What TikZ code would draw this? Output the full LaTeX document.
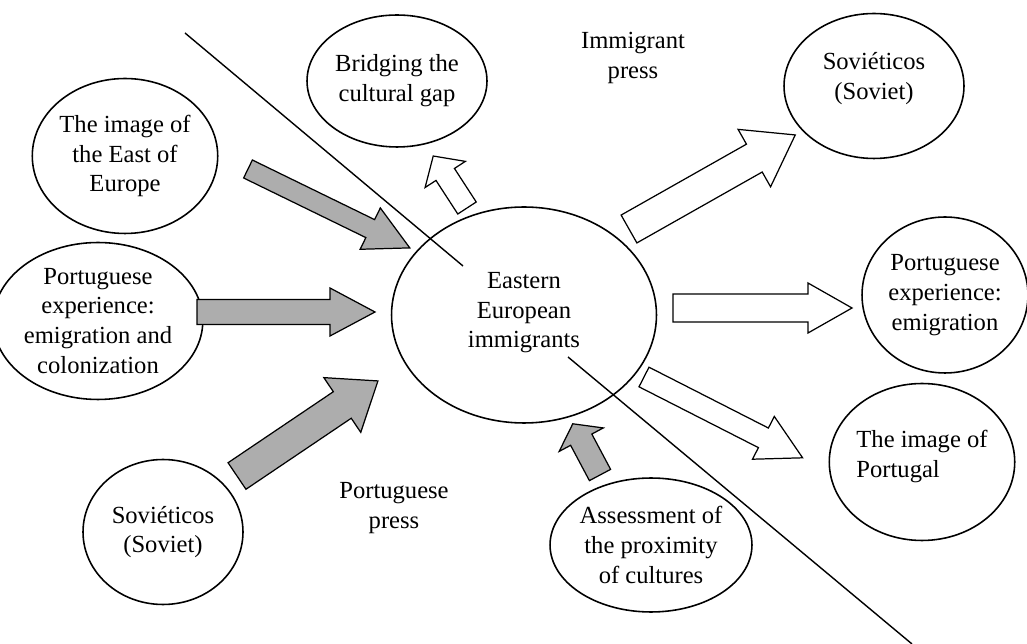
\documentclass[tikz,border=0pt]{standalone}
\usepackage{fontspec}
\setmainfont{Liberation Serif}
\usepackage{tikz}
\usetikzlibrary{shapes.geometric}

% block arrow: style, tail, angle, length, half shaft, half head, head length
\newcommand{\blockarrow}[7]{%
	\begin{scope}[shift={#2}, rotate=#3]
		\draw[#1] (0,-#5) -- (#4-#7,-#5) -- (#4-#7,-#6) -- (#4,0) -- (#4-#7,#6) -- (#4-#7,#5) -- (0,#5) -- cycle;
	\end{scope}}

\tikzset{
	every node/.style={font=\fontsize{14}{17}\selectfont},
	bubble/.style={ellipse, draw, line width=0.9pt, inner sep=0pt, align=center},
	greyarrow/.style={draw, line width=0.7pt, fill=black!32},
	whitearrow/.style={draw, line width=0.7pt, fill=white}
}

\begin{document}
\begin{tikzpicture}[x=0.02cm, y=-0.02cm]
	\useasboundingbox (0,0) rectangle (1027,644);

	% dividing line
	\coordinate (l1) at (185,33);
	\coordinate (l2) at (463,266);
	\coordinate (l3) at (568,357);
	\coordinate (l4) at (912,644);
	\draw[line width=0.8pt] (l1) -- (l2);
	\draw[line width=0.8pt] (l3) -- (l4);

	% bubbles
	\node[bubble, minimum width=5.3cm, minimum height=4.32cm] (immig) at (524,315) {Eastern\\European\\immigrants\\[-11.3pt]};
	\node[bubble, minimum width=3.6cm, minimum height=2.64cm] (bridge) at (397,81) {Bridging the\\cultural gap};
	\node[bubble, minimum width=3.6cm, minimum height=2.9cm] (sovtop) at (874,86) {Soviéticos\\(Soviet)\\[-5.6pt]};
	\node[bubble, minimum width=3.52cm, minimum height=3.1cm] (east) at (125,156) {The image of\\the East of\\Europe};
	\node[bubble, minimum width=3.52cm, minimum height=3.14cm] (portexp) at (98,321) {Portuguese\\experience:\\emigration and\\colonization};
	\node[bubble, minimum width=3.2cm, minimum height=2.9cm] (sovbot) at (163,532) {Soviéticos\\(Soviet)};
	\node[bubble, minimum width=3.32cm, minimum height=3.12cm] (portemi) at (945,295) {Portuguese\\experience:\\emigration};
	\node[bubble, minimum width=3.58cm, minimum height=3.14cm, align=left] (imgport) at (922,462) {The image of\\Portugal\\[-8pt]};
	\node[bubble, minimum width=3.54cm, minimum height=2.68cm] (assess) at (651,545) {Assessment of\\the proximity\\of cultures};

	% free labels
	\node[align=center] (imprs) at (633,58) {Immigrant\\press};
	\node[align=center] (ptprs) at (394,508) {Portuguese\\press};

	% arrows into the centre
	\blockarrow{greyarrow}{(248,169)}{-26}{180}{10}{23}{44}
	\blockarrow{greyarrow}{(197,312)}{0}{178}{12.5}{24}{45}
	\blockarrow{greyarrow}{(237,476)}{34}{170}{16}{33}{43}
	\blockarrow{greyarrow}{(600,475)}{118}{58}{12}{25}{18}

	% arrows out of the centre
	\blockarrow{whitearrow}{(467,208)}{123}{62}{11}{24}{22}
	\blockarrow{whitearrow}{(629,229)}{29.5}{191}{16}{33}{47}
	\blockarrow{whitearrow}{(673,308)}{0}{179}{14}{25}{44}
	\blockarrow{whitearrow}{(644,377)}{-27}{178}{11}{24}{44}
\end{tikzpicture}
\end{document}
